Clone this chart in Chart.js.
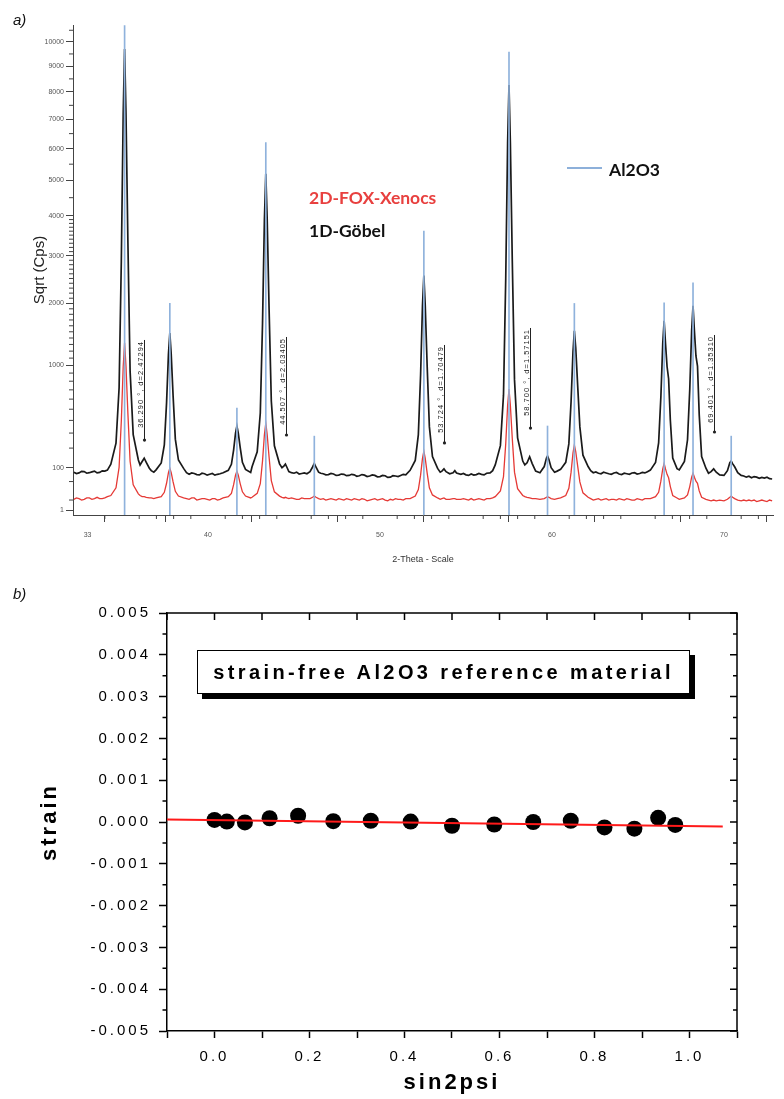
<!DOCTYPE html>
<html><head><meta charset="utf-8">
<script src="https://cdn.jsdelivr.net/npm/chart.js@4/dist/chart.umd.min.js"></script>
<style>
html,body{margin:0;padding:0;background:#fff;}
body{width:784px;height:1099px;overflow:hidden;position:relative;}
canvas{position:absolute;left:0;}
#ca{top:0;}
#cb{top:570px;}
.t{position:absolute;white-space:nowrap;}
.lg{font-family:Lato,'Open Sans',sans-serif;font-size:17.5px;line-height:18px;font-weight:bold;}
</style></head><body>
<canvas id="ca" width="784" height="580"></canvas>
<canvas id="cb" width="784" height="529"></canvas>

<div class="t" style="left:13px;top:12px;font:italic 15px/15px 'Liberation Sans',Arial,sans-serif;color:#111;">a)</div>
<div class="t" style="left:13px;top:586px;font:italic 15px/15px 'Liberation Sans',Arial,sans-serif;color:#111;">b)</div>

<div class="t" style="left:567px;top:167px;width:35px;height:1.5px;background:#8db0da;"></div>
<div class="t lg" style="left:609px;top:161px;color:#111;">Al2O3</div>
<div class="t lg" style="left:309px;top:189px;color:#e8403f;">2D-FOX-Xenocs</div>
<div class="t lg" style="left:309px;top:222px;color:#111;">1D-Göbel</div>

<div class="t" style="left:197px;top:650px;width:493px;height:44px;box-sizing:border-box;border:1.5px solid #000;background:#fff;box-shadow:5px 5px 0 0 #000;display:flex;align-items:center;justify-content:center;font:bold 20px 'Liberation Sans',Arial,sans-serif;letter-spacing:3.4px;color:#000;">strain-free Al2O3 reference material</div>

<script>
// ---------------- Panel a data ----------------
// 1D-Göbel scan: [2-theta, counts]
const gobelScan = [
[32.2,82],[32.35,77],[32.5,79],[32.65,85],[32.8,84],[32.95,78],[33.1,80],[33.25,83],[33.4,86],[33.55,79],[33.7,81],[33.85,87],[34.0,86],[34.15,90],
[34.35,115],[34.65,231],[34.83,720],[34.96,2883],[35.07,7228],[35.15,9700],[35.23,7228],[35.34,3384],[35.47,925],[35.65,289],[35.95,135],
[36.05,112],[36.17,128],[36.29,144],[36.41,124],[36.59,98],
[36.7,88],[36.85,82],
[36.98,91],[37.28,121],[37.46,220],[37.59,562],[37.70,1159],[37.78,1480],[37.86,1159],[37.97,634],[38.10,257],[38.28,135],[38.58,97],
[38.75,80],[38.9,74],[39.05,79],[39.2,77],[39.35,73],[39.5,72],[39.65,78],[39.8,76],[39.95,71],[40.1,74],[40.25,77],[40.4,71],[40.55,74],[40.7,76],
[40.88,80],[41.18,89],[41.36,115],[41.49,190],[41.60,299],[41.68,354],[41.76,299],[41.87,204],[42.00,124],[42.18,93],[42.48,81],
[42.56,104],[42.86,179],[43.04,465],[43.17,1643],[43.28,3922],[43.36,5200],[43.44,3922],[43.55,1908],[43.68,581],[43.86,214],[44.16,117],
[44.3,100],[44.42,108],[44.5,116],[44.58,103],[44.7,84],
[44.85,80],[45.0,78],[45.15,82],[45.3,75],[45.45,77],[45.6,79],[45.75,76],
[45.93,84],[46.08,103],[46.18,119],[46.28,102],[46.43,82],
[46.55,78],[46.7,76],[46.85,72],[47.0,73],[47.15,77],[47.3,75],[47.45,70],[47.6,71],[47.75,75],[47.9,74],[48.05,69],[48.2,70],[48.35,74],[48.5,72],[48.65,67],[48.8,69],[48.95,73],[49.1,71],[49.25,66],[49.4,68],[49.55,72],[49.7,70],[49.85,65],[50.0,66],[50.15,70],[50.3,69],[50.45,63],[50.6,64],[50.75,69],[50.9,68],[51.05,66],[51.2,70],[51.35,74],[51.5,72],
[51.75,89],[52.05,133],[52.23,289],[52.36,876],[52.47,1962],[52.55,2560],[52.63,1962],[52.74,1005],[52.87,349],[53.05,153],[53.35,97],
[53.5,82],[53.6,86],[53.72,95],[53.84,84],[54.05,76],[54.25,80],[54.35,88],[54.45,79],
[54.7,74],[54.85,77],[55.0,72],[55.15,70],[55.3,75],[55.45,71],[55.6,73],[55.75,77],[55.9,74],[56.05,72],[56.2,78],[56.4,79],[56.55,88],
[56.70,112],[57.00,215],[57.18,642],[57.31,2491],[57.42,6176],[57.50,8260],[57.58,6176],[57.69,2917],[57.82,819],[58.00,266],[58.30,130],
[58.42,112],[58.55,122],[58.7,152],[58.85,118],[59.05,86],
[59.3,80],[59.55,105],[59.68,145],[59.74,155],[59.82,138],[59.95,100],[60.15,82],[60.3,86],
[60.50,93],[60.80,124],[60.98,226],[61.11,576],[61.22,1186],[61.30,1515],[61.38,1249],[61.49,760],[61.62,347],[61.80,160],[62.10,105],
[62.25,88],[62.4,80],[62.55,83],[62.7,78],[62.85,76],[63.0,82],[63.15,79],[63.3,76],[63.45,74],[63.6,79],[63.75,81],[63.9,75],[64.05,73],[64.2,78],[64.35,76],[64.5,74],[64.65,79],[64.8,80],[64.95,75],[65.1,77],[65.25,81],[65.4,79],[65.55,84],
[65.72,90],[66.02,123],[66.20,233],[66.33,622],[66.44,1312],[66.52,1686],[66.60,1312],[66.69,985],[66.78,830],[66.88,404],[67.02,145],[67.27,96],
[67.40,91],[67.70,128],[67.88,253],[68.01,704],[68.12,1515],[68.20,1956],[68.28,1515],[68.37,1130],[68.46,992],[68.56,450],[68.70,153],[68.95,98],
[69.1,78],[69.25,84],[69.4,95],[69.55,82],[69.75,72],
[70.0,70],[70.2,88],[70.34,122],[70.42,130],[70.5,118],[70.62,104],[70.8,80],[71.0,70],
[71.15,68],[71.3,64],[71.45,67],[71.6,62],[71.75,66],[71.9,64],[72.05,60],[72.2,63],[72.35,61],[72.5,64],[72.65,59],[72.8,58]
];
// 2D-FOX-Xenocs scan: [2-theta, counts]
const foxScan = [
[32.2,11],[32.35,13],[32.5,12],[32.65,10],[32.8,11],[32.95,13],[33.1,13],[33.25,11],[33.4,12],[33.55,14],[33.7,12],[33.85,12],[34.0,13],[34.15,15],
[34.35,17],[34.65,33],[34.83,101],[34.96,397],[35.07,990],[35.15,1325],[35.23,990],[35.34,466],[35.47,129],[35.65,41],[35.95,20],
[36.05,17],[36.17,15],[36.29,15],[36.41,14],[36.59,13],
[36.7,13],[36.85,12],
[36.98,13],[37.28,15],[37.46,23],[37.59,45],[37.70,80],[37.78,98],[37.86,80],[37.97,49],[38.10,25],[38.28,16],[38.58,13],
[38.75,12],[38.9,11],[39.05,13],[39.2,13],[39.35,10],[39.5,11],[39.65,12],[39.8,12],[39.95,11],[40.1,10],[40.25,12],[40.4,12],[40.55,10],[40.7,11],
[40.88,13],[41.18,15],[41.36,21],[41.49,41],[41.60,71],[41.68,86],[41.76,71],[41.87,44],[42.00,24],[42.18,16],[42.48,13],
[42.56,14],[42.86,21],[43.04,44],[43.17,131],[43.28,290],[43.36,377],[43.44,290],[43.55,150],[43.68,53],[43.86,24],[44.16,16],
[44.3,14],[44.42,13],[44.5,14],[44.58,13],[44.7,12],
[44.85,13],[45.0,12],[45.15,11],[45.3,11],[45.45,13],[45.6,12],[45.75,12],
[45.93,12],[46.08,14],[46.18,16],[46.28,14],[46.43,12],
[46.55,11],[46.7,12],[46.85,10],[47.0,11],[47.15,12],[47.3,11],[47.45,10],[47.6,12],[47.75,11],[47.9,10],[48.05,12],[48.2,11],[48.35,10],[48.5,12],[48.65,11],[48.8,10],[48.95,12],[49.1,11],[49.25,9],[49.4,10],[49.55,11],[49.7,12],[49.85,10],[50.0,11],[50.15,12],[50.3,10],[50.45,9],[50.6,11],[50.75,10],[50.9,12],[51.05,11],[51.2,11],[51.35,10],[51.5,12],
[51.75,12],[52.05,16],[52.23,29],[52.36,71],[52.47,143],[52.55,182],[52.63,143],[52.74,79],[52.87,33],[53.05,18],[53.35,13],
[53.5,11],[53.6,12],[53.72,13],[53.84,11],[54.05,11],[54.25,12],[54.35,12],[54.45,11],
[54.7,11],[54.85,12],[55.0,11],[55.15,10],[55.3,12],[55.45,10],[55.6,11],[55.75,12],[55.9,11],[56.05,10],[56.2,12],[56.4,12],[56.55,13],
[56.70,15],[57.00,26],[57.18,66],[57.31,227],[57.42,537],[57.50,710],[57.58,537],[57.69,263],[57.82,82],[58.00,31],[58.30,17],
[58.42,15],[58.55,14],[58.7,13],[58.85,12],[59.05,12],
[59.3,11],[59.55,12],[59.68,14],[59.74,15],[59.82,14],[59.95,12],[60.15,11],[60.3,12],
[60.50,13],[60.80,17],[60.98,32],[61.11,82],[61.22,171],[61.30,219],[61.38,180],[61.49,109],[61.62,49],[61.80,22],[62.10,14],
[62.25,12],[62.4,10],[62.55,11],[62.7,12],[62.85,10],[63.0,11],[63.15,12],[63.3,10],[63.45,11],[63.6,11],[63.75,10],[63.9,12],[64.05,11],[64.2,10],[64.35,12],[64.5,11],[64.65,10],[64.8,10],[64.95,12],[65.1,11],[65.25,10],[65.4,12],[65.55,12],
[65.72,12],[66.02,15],[66.20,23],[66.33,51],[66.44,95],[66.52,119],[66.60,95],[66.69,74],[66.78,62],[66.88,36],[67.02,17],[67.27,13],
[67.40,11],[67.70,13],[67.88,18],[68.01,36],[68.12,64],[68.20,78],[68.28,64],[68.37,51],[68.46,45],[68.56,26],[68.70,14],[68.95,11],
[69.1,10],[69.25,9],[69.4,10],[69.55,9],[69.75,10],
[70.0,9],[70.2,11],[70.34,14],[70.42,16],[70.5,14],[70.62,12],[70.8,10],[71.0,9],
[71.15,10],[71.3,9],[71.45,10],[71.6,9],[71.75,10],[71.9,8],[72.05,9],[72.2,10],[72.35,9],[72.5,8],[72.65,10],[72.8,9]
];
// Al2O3 reference pattern (stick lines)
const al2o3Pos = [35.15, 37.78, 41.68, 43.36, 46.18, 52.55, 57.50, 59.74, 61.30, 66.52, 68.20, 70.42];
const al2o3Cps = [10700, 2000, 510, 6200, 278, 3600, 9580, 354, 2000, 2010, 2410, 278];

// peak annotations
const noteTheta  = [36.290, 44.507, 53.724, 58.700, 69.401];
const noteText   = ['36.290 °, d=2.47294', '44.507 °, d=2.03405', '53.724 °, d=1.70479', '58.700 °, d=1.57151', '69.401 °, d=1.35310'];
const noteTop    = [1369, 1416, 1292, 1563, 1448];
const noteBottom = [251, 286, 232, 338, 308];

// axis ticks panel a
const xMajorA = [33, 35, 40, 45, 50, 55, 60, 65, 70];
const xLabelsA = [33, 40, 50, 60, 70];
const xMinorA = [34,36,37,38,39,41,42,43,44,46,47,48,49,51,52,53,54,56,57,58,59,61,62,63,64,66,67,68,69,71,72];
const yMajorA = [1, 100, 1000, 2000, 3000, 4000, 5000, 6000, 7000, 8000, 9000, 10000];
const yMinorA = [10, 50, 200, 300, 400, 500, 600, 700, 800, 900,
  1100, 1200, 1300, 1400, 1500, 1600, 1700, 1800, 1900,
  2100, 2200, 2300, 2400, 2500, 2600, 2700, 2800, 2900,
  3100, 3200, 3300, 3400, 3500, 3600, 3700, 3800, 3900,
  4500, 5500, 6500, 7500, 8500, 9500, 10500];

// ---------------- Panel b data ----------------
const sin2psi = [0.000, 0.026, 0.064, 0.116, 0.176, 0.250, 0.329, 0.413, 0.500, 0.589, 0.671, 0.750, 0.821, 0.884, 0.934, 0.970];
const strain  = [0.00005, 0.00001, -0.00001, 0.00009, 0.00015, 0.00002, 0.00003, 0.00001, -0.00009, -0.00006, 0.00000, 0.00003, -0.00013, -0.00016, 0.00010, -0.00007];
const fitX = [-0.1, 1.07];
const fitY = [0.00006, -0.00011];

const xTicksB = [-0.1, 0.0, 0.1, 0.2, 0.3, 0.4, 0.5, 0.6, 0.7, 0.8, 0.9, 1.0, 1.1];
const yTicksB = [-0.005, -0.004, -0.003, -0.002, -0.001, 0, 0.001, 0.002, 0.003, 0.004, 0.005];
const yMinorB = [-0.0045, -0.0035, -0.0025, -0.0015, -0.0005, 0.0005, 0.0015, 0.0025, 0.0035, 0.0045];

// ---------------- sqrt scale ----------------
class SqrtScale extends Chart.LinearScale {
  _s0() { return Math.sqrt(Math.max(this.min, 0)); }
  _s1() { return Math.sqrt(Math.max(this.max, 0)); }
  getPixelForValue(value) {
    if (value === null || value === undefined || isNaN(value)) return NaN;
    const s0 = this._s0(), s1 = this._s1();
    return this.getPixelForDecimal((Math.sqrt(Math.max(value, 0)) - s0) / (s1 - s0));
  }
  getValueForPixel(pixel) {
    const s0 = this._s0(), s1 = this._s1();
    const s = s0 + this.getDecimalForPixel(pixel) * (s1 - s0);
    return s * s;
  }
}
SqrtScale.id = 'sqrt';
SqrtScale.defaults = {};
Chart.register(SqrtScale);

Chart.defaults.font.family = "'Liberation Sans', Arial, sans-serif";

// extra tick marks (minor / inner) drawn through the scales
const extraTicks = {
  id: 'extraTicks',
  afterDraw(chart, args, opts) {
    const ctx = chart.ctx, ca = chart.chartArea;
    ctx.save();
    if (opts.frame) {
      ctx.strokeStyle = opts.frame.color; ctx.lineWidth = opts.frame.width;
      ctx.beginPath();
      ctx.moveTo(ca.left, ca.top); ctx.lineTo(ca.right, ca.top); ctx.lineTo(ca.right, ca.bottom);
      ctx.stroke();
    }
    (opts.sets || []).forEach(set => {
      const sc = chart.scales[set.scale];
      ctx.strokeStyle = set.color; ctx.lineWidth = set.width;
      ctx.beginPath();
      set.values.forEach(v => {
        const p = sc.getPixelForValue(v);
        if (set.edge === 'left') { ctx.moveTo(ca.left, p); ctx.lineTo(ca.left - set.len, p); }
        else if (set.edge === 'right') { ctx.moveTo(ca.right, p); ctx.lineTo(ca.right + set.len, p); }
        else if (set.edge === 'top') { ctx.moveTo(p, ca.top); ctx.lineTo(p, ca.top - set.len); }
        else { ctx.moveTo(p, ca.bottom); ctx.lineTo(p, ca.bottom + set.len); }
      });
      ctx.stroke();
    });
    ctx.restore();
  }
};

const peakNotes = {
  id: 'peakNotes',
  afterDatasetsDraw(chart) {
    const ctx = chart.ctx, x = chart.scales.x, y = chart.scales.y;
    ctx.save();
    ctx.strokeStyle = '#222'; ctx.fillStyle = '#222'; ctx.lineWidth = 1;
    ctx.font = "7.5px 'Liberation Sans', Arial, sans-serif";
    ctx.letterSpacing = '1px';
    noteTheta.forEach((t, i) => {
      const px = Math.round(x.getPixelForValue(t)) + 0.5;
      const top = y.getPixelForValue(noteTop[i]);
      const bot = y.getPixelForValue(noteBottom[i]);
      ctx.beginPath(); ctx.moveTo(px, top); ctx.lineTo(px, bot); ctx.stroke();
      ctx.beginPath(); ctx.arc(px, bot, 1.6, 0, Math.PI * 2); ctx.fill();
      ctx.save();
      ctx.translate(px - 1.3, top + 1);
      ctx.rotate(-Math.PI / 2);
      ctx.textAlign = 'right'; ctx.textBaseline = 'alphabetic';
      ctx.fillText(noteText[i], 0, 0);
      ctx.restore();
    });
    ctx.restore();
  }
};

const spacing = {
  id: 'spacing',
  beforeLayout(chart, a, o) { chart.ctx.letterSpacing = o.value; },
  beforeDraw(chart, a, o) { chart.ctx.letterSpacing = o.value; }
};

// ---------------- Chart a ----------------
new Chart(document.getElementById('ca'), {
  type: 'line',
  data: {
    datasets: [
      { type: 'bar', label: 'Al2O3', data: al2o3Pos.map((x, i) => ({ x, y: al2o3Cps[i] })),
        backgroundColor: '#8fb2dc', borderWidth: 0, barThickness: 1, grouped: false, order: 0 },
      { label: '1D-Göbel', data: gobelScan.map(([x, y]) => ({ x, y })),
        borderColor: '#1a1a1a', borderWidth: 1.7, pointRadius: 0, tension: 0, fill: false, order: 1 },
      { label: '2D-FOX-Xenocs', data: foxScan.map(([x, y]) => ({ x, y })),
        borderColor: '#e53935', borderWidth: 1.3, pointRadius: 0, tension: 0, fill: false, order: 2 }
    ]
  },
  options: {
    responsive: false, animation: false, devicePixelRatio: 1,
    layout: { padding: { left: 0, right: 11, top: 25, bottom: 0 } },
    plugins: {
      legend: { display: false }, tooltip: { enabled: false },
      extraTicks: { sets: [
        { scale: 'x', values: xMinorA, edge: 'bottom', len: 4, color: '#444', width: 1 },
        { scale: 'y', values: yMinorA, edge: 'left', len: 4, color: '#444', width: 1 }
      ] }
    },
    scales: {
      x: {
        type: 'linear', min: 32.15, max: 72.85, offset: false, bounds: 'data',
        afterBuildTicks: s => { s.ticks = xMajorA.map(v => ({ value: v })); },
        afterFit: s => { s.height = 65; },
        grid: { drawOnChartArea: false, tickLength: 7, tickColor: '#444', tickWidth: 1 },
        border: { color: '#444', width: 1 },
        ticks: { autoSkip: false, maxRotation: 0, padding: 9, color: '#555', font: { size: 7 },
          callback: v => xLabelsA.includes(v) ? String(v) : '' },
        title: { display: true, text: '2-Theta - Scale', color: '#333', font: { size: 9 }, padding: { top: 0, bottom: 15 } }
      },
      y: {
        type: 'sqrt', min: 0, max: 10730, bounds: 'data',
        afterBuildTicks: s => { s.ticks = yMajorA.map(v => ({ value: v })); },
        afterFit: s => { s.width = 73; },
        grid: { drawOnChartArea: false, tickLength: 7, tickColor: '#444', tickWidth: 1 },
        border: { color: '#444', width: 1 },
        ticks: { autoSkip: false, padding: 2, color: '#555', font: { size: 7, family: "'Liberation Sans Narrow','Liberation Sans',Arial,sans-serif" },
          callback: v => String(v) },
        title: { display: true, text: 'Sqrt (Cps)', color: '#222', font: { size: 15 }, padding: { top: 31, bottom: 0 } }
      }
    }
  },
  plugins: [extraTicks, peakNotes]
});

// ---------------- Chart b ----------------
new Chart(document.getElementById('cb'), {
  type: 'scatter',
  data: {
    datasets: [
      { type: 'line', label: 'fit', data: fitX.map((x, i) => ({ x, y: fitY[i] })),
        borderColor: '#ff1a1a', borderWidth: 2, pointRadius: 0, fill: false, order: 0 },
      { label: 'strain', data: sin2psi.map((x, i) => ({ x, y: strain[i] })),
        pointRadius: 8, pointBackgroundColor: '#000', pointBorderWidth: 0, showLine: false, order: 1 }
    ]
  },
  options: {
    responsive: false, animation: false, devicePixelRatio: 1,
    layout: { padding: { left: 0, right: 47, top: 43, bottom: 0 } },
    plugins: {
      legend: { display: false }, tooltip: { enabled: false },
      spacing: { value: '3px' },
      extraTicks: {
        frame: { color: '#000', width: 1.5 },
        sets: [
          { scale: 'y', values: yMinorB, edge: 'left', len: 4.5, color: '#000', width: 1.5 },
          { scale: 'y', values: yTicksB, edge: 'right', len: -7, color: '#000', width: 1.5 },
          { scale: 'y', values: yMinorB, edge: 'right', len: -4, color: '#000', width: 1.5 },
          { scale: 'x', values: xTicksB, edge: 'top', len: -7, color: '#000', width: 1.5 }
        ]
      }
    },
    scales: {
      x: {
        type: 'linear', min: -0.1, max: 1.1, bounds: 'data',
        afterBuildTicks: s => { s.ticks = xTicksB.map(v => ({ value: v })); },
        afterFit: s => { s.height = 68; },
        grid: { drawOnChartArea: false, tickLength: 7, tickColor: '#000', tickWidth: 1.5 },
        border: { color: '#000', width: 1.5 },
        ticks: { autoSkip: false, maxRotation: 0, padding: 10, color: '#000', font: { size: 15 },
          callback: v => { const k = Math.round(v * 10); return (k >= 0 && k <= 10 && k % 2 === 0) ? (k / 10).toFixed(1) : ''; } },
        title: { display: true, text: 'sin2psi', color: '#000', font: { size: 22, weight: 'bold' }, padding: { top: 0, bottom: 3 } }
      },
      y: {
        type: 'linear', min: -0.005, max: 0.005, bounds: 'data',
        afterBuildTicks: s => { s.ticks = yTicksB.map(v => ({ value: v })); },
        afterFit: s => { s.width = 167; },
        grid: { drawOnChartArea: false, tickLength: 8, tickColor: '#000', tickWidth: 1.5 },
        border: { color: '#000', width: 1.5 },
        ticks: { autoSkip: false, padding: 8, color: '#000', font: { size: 15 },
          callback: v => Math.abs(v) < 1e-9 ? '0.000' : v.toFixed(3) },
        title: { display: true, text: 'strain', color: '#000', font: { size: 22, weight: 'bold' }, padding: { top: 37, bottom: 0 } }
      }
    }
  },
  plugins: [spacing, extraTicks]
});
</script>
</body></html>
